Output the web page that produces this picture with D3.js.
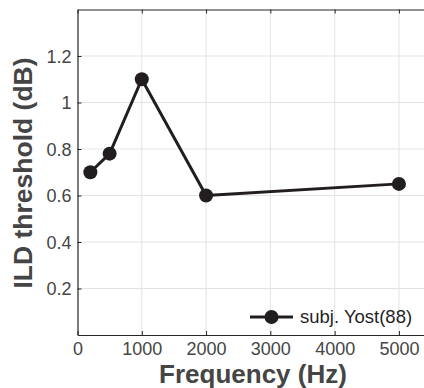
<!DOCTYPE html>
<html>
<head>
<meta charset="utf-8">
<script src="https://cdn.jsdelivr.net/npm/d3@7"></script>
<style>
  html, body { margin: 0; padding: 0; background: #fff; }
  svg { display: block; font-family: "Liberation Sans", Arial, Helvetica, sans-serif; }
</style>
</head>
<body>
<svg id="chart" width="424" height="388"></svg>
<script>
// ILD threshold vs. frequency
const frequencies = [200, 500, 1000, 2000, 5000];
const thresholds = [0.70, 0.78, 1.10, 0.60, 0.65];
const xTicks = [0, 1000, 2000, 3000, 4000, 5000];
const yTicks = [0.2, 0.4, 0.6, 0.8, 1.0, 1.2];
const seriesName = "subj. Yost(88)";

const svg = d3.select("#chart");
const plotLeft = 77.5, plotTop = 9.5, plotBottom = 335;
const x = d3.scaleLinear().domain([0, 5460]).range([plotLeft, 428.5]);
const y = d3.scaleLinear().domain([0, 1.4]).range([plotBottom, plotTop]);

const axisColor = "#262626";
const textColor = "#454545";

// grid
const grid = svg.append("g");
grid.selectAll("line.vx").data(xTicks.slice(1)).join("line")
  .attr("x1", d => x(d)).attr("x2", d => x(d))
  .attr("y1", plotTop).attr("y2", plotBottom)
  .attr("stroke", "#e3e3e3").attr("stroke-width", 1);
grid.selectAll("line.hy").data(yTicks).join("line")
  .attr("x1", plotLeft).attr("x2", 424)
  .attr("y1", d => y(d)).attr("y2", d => y(d))
  .attr("stroke", "#e3e3e3").attr("stroke-width", 1);

// axes (ticks point inward)
const xAxis = svg.append("g").attr("transform", `translate(0,${plotBottom})`)
  .call(d3.axisBottom(x).tickValues(xTicks).tickSizeInner(-4).tickSizeOuter(0).tickPadding(7).tickFormat(d3.format("d")));
const xAxisTop = svg.append("g").attr("transform", `translate(0,${plotTop})`)
  .call(d3.axisTop(x).tickValues(xTicks).tickSizeInner(-4).tickSizeOuter(0).tickFormat(""));
const yAxis = svg.append("g").attr("transform", `translate(${plotLeft},0)`)
  .call(d3.axisLeft(y).tickValues(yTicks).tickSizeInner(-4).tickSizeOuter(0).tickPadding(6).tickFormat(d => d3.format("")(+d.toFixed(1))));

[xAxis, xAxisTop, yAxis].forEach(g => {
  g.select(".domain").attr("stroke", axisColor).attr("stroke-width", 1.2);
  g.selectAll(".tick line").attr("stroke", axisColor).attr("stroke-width", 1);
  g.selectAll(".tick text").attr("fill", textColor).attr("font-size", 18)
    .attr("font-family", "Liberation Sans, Arial, sans-serif");
});
xAxis.selectAll(".tick text").attr("dy", "0.71em");
yAxis.selectAll(".tick text").attr("dy", "0.34em");

// data line and markers
const lineColor = "#221e1f";
svg.append("path").datum(frequencies.map((f, i) => [f, thresholds[i]]))
  .attr("fill", "none").attr("stroke", lineColor).attr("stroke-width", 3)
  .attr("stroke-linejoin", "round")
  .attr("d", d3.line().x(d => x(d[0])).y(d => y(d[1])));
svg.selectAll("circle.pt").data(frequencies).join("circle")
  .attr("class", "pt")
  .attr("cx", d => x(d)).attr("cy", (d, i) => y(thresholds[i]))
  .attr("r", 7).attr("fill", lineColor);

// legend
const leg = svg.append("g").attr("transform", "translate(250,317)");
leg.append("line").attr("x1", 0).attr("x2", 43).attr("y1", 0).attr("y2", 0)
  .attr("stroke", lineColor).attr("stroke-width", 3);
leg.append("circle").attr("cx", 21.5).attr("cy", 0).attr("r", 7).attr("fill", lineColor);
leg.append("text").attr("x", 50).attr("y", 0).attr("dy", "0.35em")
  .attr("font-size", 18.5).attr("fill", "#1f1f1f").text(seriesName);

// axis titles
svg.append("text").attr("x", 253).attr("y", 382.5).attr("text-anchor", "middle")
  .attr("font-size", 26).attr("font-weight", "bold").attr("fill", textColor)
  .text("Frequency (Hz)");
svg.append("text").attr("transform", "translate(32,173) rotate(-90)")
  .attr("text-anchor", "middle")
  .attr("font-size", 26.5).attr("font-weight", "bold").attr("fill", textColor)
  .text("ILD threshold (dB)");
</script>
</body>
</html>
